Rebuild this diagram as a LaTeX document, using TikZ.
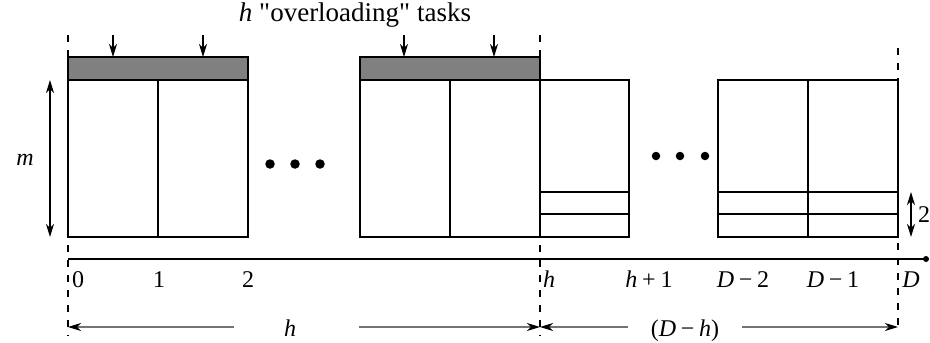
\documentclass[tikz,border=0pt]{standalone}
\usepackage{fontspec}
\setmainfont{Liberation Serif}
\usetikzlibrary{arrows.meta}
\newcommand{\opsp}{\hspace{0.2em}}
\begin{document}
\begin{tikzpicture}[x=1pt,y=-1pt,
  box/.style={draw=black,line width=2pt},
  thinrow/.style={draw=black,line width=1.5pt},
  bar/.style={draw=black,fill=black!50,line width=2pt},
  guide/.style={line width=1.8pt,dash pattern=on 7pt off 8pt},
  axis/.style={line width=1.2pt},
  lbl/.style={font=\fontsize{24}{28}\selectfont,inner sep=0pt},
  ttl/.style={font=\fontsize{27}{30}\selectfont,inner sep=0pt},
  dimline/.style={draw=black!55,line width=1.3pt},
  dimtip/.style={-{Stealth[length=13pt,width=8pt,inset=4pt,black]}},
  downarrow/.style={line width=1.2pt,-{Stealth[length=13pt,width=8pt,inset=4pt]}},
  sizearrow/.style={line width=1.2pt,{Stealth[length=13pt,width=8pt,inset=4pt]}-{Stealth[length=13pt,width=8pt,inset=4pt]}},
  dot/.style={circle,fill=black,inner sep=0pt,minimum size=9.5pt}
]
\useasboundingbox (0,0) rectangle (930,343);

% overloaded bars
\draw[bar] (68,57) rectangle (248,80);
\draw[bar] (360,57) rectangle (540,80);

% first group
\draw[box] (68,80) rectangle (248,237);
\draw[box] (158,80) -- (158,237);
% second group
\draw[box] (360,80) rectangle (540,237);
\draw[box] (450,80) -- (450,237);
% third group
\draw[box] (540,80) rectangle (629,237);
\draw[thinrow] (540,192) -- (629,192);
\draw[box] (540,214) -- (629,214);
% last group
\draw[box] (718,80) rectangle (898,237);
\draw[box] (808,80) -- (808,237);
\draw[thinrow] (718,192) -- (898,192);
\draw[box] (718,214) -- (898,214);

% dashed guides
\coordinate (g0a) at (68,35);  \coordinate (g0b) at (68,336);
\coordinate (gha) at (540,35); \coordinate (ghb) at (540,336);
\coordinate (gDa) at (898,48); \coordinate (gDb) at (898,330);
\draw[guide] (g0a) -- (g0b);
\draw[guide] (gha) -- (ghb);
\draw[guide] (gDa) -- (gDb);

% axis
\coordinate (ax0) at (68,259);
\node[dot,minimum size=6pt] (axend) at (926,259) {};
\draw[axis] (ax0) -- (axend.center);

% task arrows
\foreach \x [count=\i] in {113,203,404,494}{
  \coordinate (ta\i) at (\x,35);
  \coordinate (tb\i) at (\x,57);
  \draw[downarrow] (ta\i) -- (tb\i);
}

% title
\node[ttl,anchor=base] (title) at (355,21) {\textit{h} \textquotedbl overloading\textquotedbl{} tasks};

% m arrow
\coordinate (ma) at (50,80); \coordinate (mb) at (50,237);
\draw[sizearrow] (ma) -- (mb);
\node[lbl] (mlab) at (25,160) {\textit{m}};

% 2 arrow
\coordinate (ta) at (911,192); \coordinate (tb) at (911,237);
\draw[sizearrow] (ta) -- (tb);
\node[lbl,anchor=west] (twolab) at (918,215) {2};

% dots
\node[dot] (d1) at (270,164) {};
\node[dot] (d2) at (295,164) {};
\node[dot] (d3) at (320,164) {};
\node[dot,minimum size=8.5pt] (d4) at (656,156) {};
\node[dot,minimum size=8.5pt] (d5) at (680,156) {};
\node[dot,minimum size=8.5pt] (d6) at (705,156) {};

% axis labels
\node[lbl,anchor=base west] (l0) at (72,287) {0};
\node[lbl,anchor=base] (l1) at (159,287) {1};
\node[lbl,anchor=base] (l2) at (248,287) {2};
\node[lbl,anchor=base] (lh) at (549,287) {\textit{h}};
\node[lbl,anchor=base] (lh1) at (649,287) {\textit{h}\opsp+\opsp1};
\node[lbl,anchor=base] (lD2) at (743,287) {\textit{D}\opsp−\opsp2};
\node[lbl,anchor=base] (lD1) at (833,287) {\textit{D}\opsp−\opsp1};
\node[lbl,anchor=base] (lD) at (911,287) {\textit{D}};

% span arrows
\node[lbl,anchor=base] (sh) at (290,336) {\textit{h}};
\node[lbl,anchor=base] (sDh) at (685,336) {(\textit{D}\opsp−\opsp\textit{h})};
\coordinate (s0) at (68,327);   \coordinate (s1) at (234,327);
\coordinate (s2) at (359,327);  \coordinate (s3) at (540,327);
\coordinate (s4) at (540,327);  \coordinate (s5) at (628,327);
\coordinate (s6) at (742,327);  \coordinate (s7) at (898,327);
\draw[dimline,dimtip] (s1) -- (s0);
\draw[dimline,dimtip] (s2) -- (s3);
\draw[dimline,dimtip] (s5) -- (s4);
\draw[dimline,dimtip] (s6) -- (s7);
\end{tikzpicture}
\end{document}
